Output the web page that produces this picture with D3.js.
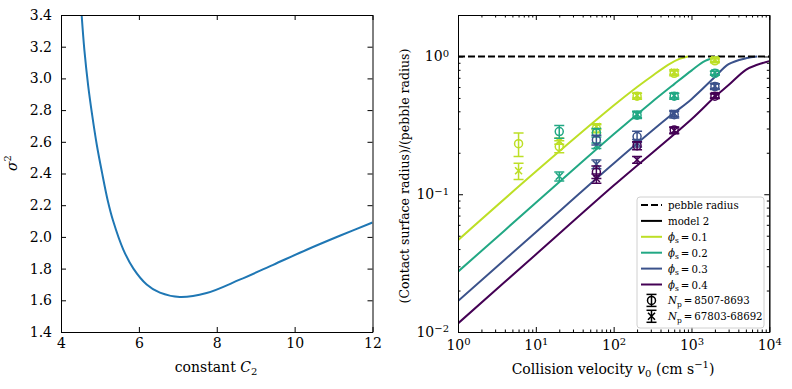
<!DOCTYPE html>
<html>
<head>
  <meta charset="utf-8">
  <script src="https://d3js.org/d3.v7.min.js"></script>
  <style>
    body { margin: 0; background: #fff; }
    text { font-family: "DejaVu Serif", "Liberation Serif", serif; fill: #000; }
  </style>
</head>
<body>
<script>
// ---- left panel: sigma^2 vs C2
var c2 = [4.53, 4.60, 4.70, 4.80, 4.92, 5.05, 5.20, 5.34, 5.60, 5.86, 6.20, 6.54, 7.05, 7.74, 8.59, 9.45, 10.31, 11.16, 12.0];
var sigma2 = [3.40, 3.18, 2.95, 2.77, 2.58, 2.41, 2.23, 2.10, 1.92, 1.80, 1.70, 1.648, 1.621, 1.646, 1.73, 1.824, 1.919, 2.007, 2.091];
var c2Ticks = [4, 6, 8, 10, 12];
var sigmaTicks = [1.4, 1.6, 1.8, 2.0, 2.2, 2.4, 2.6, 2.8, 3.0, 3.2, 3.4];

// ---- right panel: model lines (velocity, radius ratio)
var phiLabels = ["0.1", "0.2", "0.3", "0.4"];
var phiColors = ["#bddf26", "#22a884", "#3b528b", "#440154"];
var modelV = [
  [1, 10, 100, 200, 300, 500, 700, 900],
  [1, 10, 100, 300, 600, 1000, 1500, 2300],
  [1, 10, 100, 500, 1000, 2000, 3000, 5000, 7000],
  [1, 10, 100, 1000, 2000, 3000, 5000, 7000, 10000]
];
var modelR = [
  [0.0464, 0.146, 0.44, 0.60, 0.71, 0.87, 0.96, 1.0],
  [0.0274, 0.0866, 0.272, 0.46, 0.63, 0.79, 0.93, 1.0],
  [0.0168, 0.053, 0.167, 0.36, 0.49, 0.71, 0.88, 0.97, 1.0],
  [0.01155, 0.0365, 0.1155, 0.35, 0.51, 0.62, 0.80, 0.87, 0.925]
];

// ---- simulation points
var simV = [6, 20, 60, 200, 600, 2000];
// N_p = 8507-8693 (circles)
var smallR = [
  [0.233, 0.222, 0.30, 0.515, 0.755, 0.93],
  [null, 0.285, 0.28, 0.375, 0.515, 0.755],
  [null, null, 0.248, 0.262, 0.378, 0.605],
  [null, null, 0.145, 0.225, 0.293, 0.515]
];
var smallErr = [
  [0.045, 0.022, 0.02, 0.025, 0.03, 0.03],
  [null, 0.03, 0.02, 0.02, 0.025, 0.025],
  [null, null, 0.02, 0.025, 0.02, 0.03],
  [null, null, 0.015, 0.015, 0.015, 0.02]
];
// N_p = 67803-68692 (x markers)
var bigR = [
  [0.148, 0.243, 0.31, 0.52, 0.77, 0.95],
  [null, 0.135, 0.225, 0.38, 0.52, 0.76],
  [null, null, 0.165, 0.235, 0.385, 0.61],
  [null, null, 0.13, 0.178, 0.29, 0.52]
];
var bigErr = [
  [0.02, 0.012, 0.015, 0.02, 0.03, 0.03],
  [null, 0.01, 0.01, 0.02, 0.02, 0.02],
  [null, null, 0.012, 0.015, 0.02, 0.025],
  [null, null, 0.01, 0.01, 0.015, 0.02]
];
var vMajor = [1, 10, 100, 1000, 10000];
var rMajor = [0.01, 0.1, 1];

var svg = d3.select("body").append("svg")
  .attr("width", 792).attr("height", 389);

var top_y = 15, bot_y = 332;
var tickFont = "14px";

// ================= left panel
var xl = d3.scaleLinear().domain([4, 12]).range([61, 372.5]);
var yl = d3.scaleLinear().domain([1.4, 3.4]).range([bot_y, top_y]);

var left = svg.append("g");
svg.append("clipPath").attr("id", "clipL").append("rect")
  .attr("x", 61).attr("y", top_y).attr("width", 311.5).attr("height", bot_y - top_y);

left.append("path")
  .datum(d3.range(c2.length))
  .attr("clip-path", "url(#clipL)")
  .attr("fill", "none").attr("stroke", "#1f77b4").attr("stroke-width", 2)
  .attr("d", d3.line().x(function(i){ return xl(c2[i]); }).y(function(i){ return yl(sigma2[i]); }).curve(d3.curveCatmullRom.alpha(0.5)));

function styleAxis(g) {
  g.selectAll("path").attr("stroke", "#000").attr("stroke-width", 1);
  g.selectAll("line").attr("stroke", "#000").attr("stroke-width", 1);
  g.selectAll("text").attr("font-family", null).style("font-size", tickFont).attr("fill", "#000");
}

left.append("g").attr("transform", "translate(0," + bot_y + ")")
  .call(d3.axisBottom(xl).tickValues(c2Ticks).tickSize(-5).tickSizeOuter(0).tickPadding(6).tickFormat(d3.format("d")))
  .call(styleAxis);
left.append("g").attr("transform", "translate(0," + top_y + ")")
  .call(d3.axisTop(xl).tickValues(c2Ticks).tickSize(-5).tickSizeOuter(0).tickFormat(""))
  .call(styleAxis);
left.append("g").attr("transform", "translate(61,0)")
  .call(d3.axisLeft(yl).tickValues(sigmaTicks).tickSize(-5).tickSizeOuter(0).tickPadding(9).tickFormat(d3.format(".1f")))
  .call(styleAxis);
left.append("g").attr("transform", "translate(372.5,0)")
  .call(d3.axisRight(yl).tickValues(sigmaTicks).tickSize(-5).tickSizeOuter(0).tickFormat(""))
  .call(styleAxis);

var lx = left.append("text").attr("x", 216).attr("y", 372).attr("text-anchor", "middle").style("font-size", "14px");
lx.append("tspan").text("constant ");
lx.append("tspan").style("font-style", "italic").text("C");
lx.append("tspan").attr("dy", 3).style("font-size", "10px").text("2");

var ly = left.append("text").attr("transform", "translate(17,163) rotate(-90)").attr("text-anchor", "middle").style("font-size", "14px");
ly.append("tspan").style("font-style", "italic").text("σ");
ly.append("tspan").attr("dy", -6).style("font-size", "10px").text("2");

// ================= right panel
var xr = d3.scaleLog().domain([1, 10000]).range([458, 769.3]);
var yr = d3.scaleLog().domain([0.01, 2]).range([bot_y, top_y]);
var right = svg.append("g");

svg.append("clipPath").attr("id", "clipR").append("rect")
  .attr("x", 458).attr("y", top_y).attr("width", 311.3).attr("height", bot_y - top_y);

var plot = right.append("g").attr("clip-path", "url(#clipR)");

var line = d3.line().curve(d3.curveCatmullRom.alpha(0.5));
phiColors.forEach(function(col, k) {
  plot.append("path")
    .attr("fill", "none").attr("stroke", col).attr("stroke-width", 2)
    .attr("d", line(modelV[k].map(function(v, i){ return [xr(v), yr(modelR[k][i])]; })));
});

plot.append("line")
  .attr("x1", xr(1)).attr("x2", xr(10000)).attr("y1", yr(1)).attr("y2", yr(1))
  .attr("stroke", "#000").attr("stroke-width", 2).attr("stroke-dasharray", "7,3");

function errbar(g, x, y, e, col) {
  var y0 = yr(y - e), y1 = yr(y + e);
  g.append("line").attr("x1", x).attr("x2", x).attr("y1", y0).attr("y2", y1).attr("stroke", col).attr("stroke-width", 1.5);
  [y0, y1].forEach(function(yy) {
    g.append("line").attr("x1", x - 5).attr("x2", x + 5).attr("y1", yy).attr("y2", yy).attr("stroke", col).attr("stroke-width", 1.5);
  });
}
function circleMark(g, x, y, col) {
  g.append("circle").attr("cx", x).attr("cy", y).attr("r", 4).attr("fill", "none").attr("stroke", col).attr("stroke-width", 1.5);
}
function xMark(g, x, y, col) {
  var s = 3.5;
  g.append("path").attr("d", "M" + (x - s) + "," + (y - s) + "L" + (x + s) + "," + (y + s) + "M" + (x - s) + "," + (y + s) + "L" + (x + s) + "," + (y - s))
    .attr("stroke", col).attr("stroke-width", 1.6).attr("fill", "none");
}

phiColors.forEach(function(col, k) {
  simV.forEach(function(v, i) {
    if (smallR[k][i] != null) {
      errbar(plot, xr(v), smallR[k][i], smallErr[k][i], col);
      circleMark(plot, xr(v), yr(smallR[k][i]), col);
    }
    if (bigR[k][i] != null) {
      errbar(plot, xr(v), bigR[k][i], bigErr[k][i], col);
      xMark(plot, xr(v), yr(bigR[k][i]), col);
    }
  });
});

// minor ticks
var vMinor = [];
[1, 10, 100, 1000].forEach(function(d) { for (var m = 2; m <= 9; m++) vMinor.push(d * m); });
var rMinor = [];
[0.01, 0.1, 1].forEach(function(d) { for (var m = 2; m <= 9; m++) if (d * m <= 2) rMinor.push(d * m); });

function powLabels(g) {
  g.selectAll(".tick text").each(function(d) {
    var t = d3.select(this);
    var e = Math.round(Math.log10(d));
    t.text(null);
    t.append("tspan").text("10");
    t.append("tspan").attr("dy", "-0.45em").style("font-size", "10px").text(String(e).replace("-", "−"));
  });
}

right.append("g").attr("transform", "translate(0," + bot_y + ")")
  .call(d3.axisBottom(xr).tickValues(vMajor).tickSize(-5).tickSizeOuter(0).tickPadding(8))
  .call(styleAxis).call(powLabels);
right.append("g").attr("transform", "translate(0," + bot_y + ")")
  .call(d3.axisBottom(xr).tickValues(vMinor).tickSize(-2.5).tickSizeOuter(0).tickFormat(""))
  .call(styleAxis);
right.append("g").attr("transform", "translate(0," + top_y + ")")
  .call(d3.axisTop(xr).tickValues(vMajor).tickSize(-5).tickSizeOuter(0).tickFormat(""))
  .call(styleAxis);
right.append("g").attr("transform", "translate(0," + top_y + ")")
  .call(d3.axisTop(xr).tickValues(vMinor).tickSize(-2.5).tickSizeOuter(0).tickFormat(""))
  .call(styleAxis);
right.append("g").attr("transform", "translate(458,0)")
  .call(d3.axisLeft(yr).tickValues(rMajor).tickSize(-5).tickSizeOuter(0).tickPadding(9))
  .call(styleAxis).call(powLabels);
right.append("g").attr("transform", "translate(458,0)")
  .call(d3.axisLeft(yr).tickValues(rMinor).tickSize(-2.5).tickSizeOuter(0).tickFormat(""))
  .call(styleAxis);
right.append("g").attr("transform", "translate(769.3,0)")
  .call(d3.axisRight(yr).tickValues(rMajor).tickSize(-5).tickSizeOuter(0).tickFormat(""))
  .call(styleAxis);
right.append("g").attr("transform", "translate(769.3,0)")
  .call(d3.axisRight(yr).tickValues(rMinor).tickSize(-2.5).tickSizeOuter(0).tickFormat(""))
  .call(styleAxis);

var rx = right.append("text").attr("x", 613).attr("y", 374).attr("text-anchor", "middle").style("font-size", "14px");
rx.append("tspan").text("Collision velocity ");
rx.append("tspan").style("font-style", "italic").text("v");
rx.append("tspan").attr("dy", 3).style("font-size", "10px").text("0");
rx.append("tspan").attr("dy", -3).text(" (cm s");
rx.append("tspan").attr("dy", -6).style("font-size", "10px").text("−1");
rx.append("tspan").attr("dy", 6).text(")");

right.append("text").attr("transform", "translate(409,176) rotate(-90)").attr("text-anchor", "middle")
  .style("font-size", "12.5px").text("(Contact surface radius)/(pebble radius)");

// legend
var leg = right.append("g").attr("transform", "translate(637,197)");
leg.append("rect").attr("width", 127).attr("height", 131).attr("rx", 3)
  .attr("fill", "#fff").attr("fill-opacity", 0.8).attr("stroke", "#d0d0d0");

var rows = [
  { kind: "dash", col: "#000", label: "pebble radius" },
  { kind: "line", col: "#000", label: "model 2" }
];
phiLabels.forEach(function(p, k) { rows.push({ kind: "line", col: phiColors[k], phi: p }); });
rows.push({ kind: "circ", col: "#000", np: "8507-8693" });
rows.push({ kind: "x", col: "#000", np: "67803-68692" });

rows.forEach(function(r, i) {
  var y = 8 + i * 15.9;
  var g = leg.append("g").attr("transform", "translate(0," + y + ")");
  if (r.kind === "dash" || r.kind === "line") {
    g.append("line").attr("x1", 4).attr("x2", 25).attr("y1", 0).attr("y2", 0)
      .attr("stroke", r.col).attr("stroke-width", 2)
      .attr("stroke-dasharray", r.kind === "dash" ? "7,3" : null);
  } else {
    var cx = 14.5;
    g.append("line").attr("x1", cx).attr("x2", cx).attr("y1", -6).attr("y2", 6).attr("stroke", "#000").attr("stroke-width", 1.5);
    g.append("line").attr("x1", cx - 5).attr("x2", cx + 5).attr("y1", -6).attr("y2", -6).attr("stroke", "#000").attr("stroke-width", 1.5);
    g.append("line").attr("x1", cx - 5).attr("x2", cx + 5).attr("y1", 6).attr("y2", 6).attr("stroke", "#000").attr("stroke-width", 1.5);
    if (r.kind === "circ") g.append("circle").attr("cx", cx).attr("cy", 0).attr("r", 4).attr("fill", "none").attr("stroke", "#000").attr("stroke-width", 1.5);
    else g.append("path").attr("d", "M" + (cx - 3.5) + ",-3.5L" + (cx + 3.5) + ",3.5M" + (cx - 3.5) + ",3.5L" + (cx + 3.5) + ",-3.5")
      .attr("stroke", "#000").attr("stroke-width", 1.6);
  }
  var t = g.append("text").attr("x", 31).attr("y", 4).style("font-size", "10.2px");
  if (r.label) t.text(r.label);
  else if (r.phi) {
    t.append("tspan").style("font-style", "italic").text("ϕ");
    t.append("tspan").attr("dy", 2.5).style("font-size", "7.5px").text("s");
    t.append("tspan").attr("dy", -2.5).text("\u2009=\u2009" + r.phi);
  } else {
    t.append("tspan").style("font-style", "italic").text("N");
    t.append("tspan").attr("dy", 2.5).style("font-size", "7.5px").text("p");
    t.append("tspan").attr("dy", -2.5).text("\u2009=\u2009" + r.np);
  }
});
</script>
</body>
</html>
